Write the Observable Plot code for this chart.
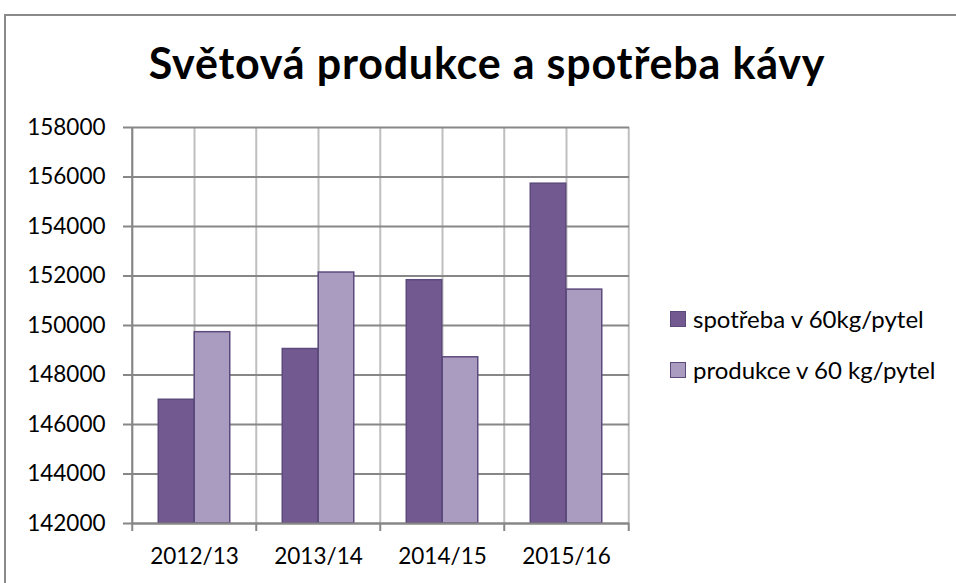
<!DOCTYPE html>
<html><head><meta charset="utf-8">
<script src="https://cdn.jsdelivr.net/npm/d3@7"></script>
<script src="https://cdn.jsdelivr.net/npm/@observablehq/plot@0.6"></script>
<style>
html,body{margin:0;padding:0;background:#fff;overflow:hidden;}
#wrap{position:relative;width:956px;height:583px;font-family:Lato,sans-serif;color:#000;overflow:hidden;}
#frame{position:absolute;left:4px;top:14px;width:990px;height:620px;border-top:2px solid #8a8a8a;border-left:2px solid #8a8a8a;}
#title{position:absolute;left:18px;width:938px;top:37px;text-align:center;font-weight:bold;font-size:43px;line-height:52px;letter-spacing:0.8px;white-space:nowrap;}
#chart{position:absolute;left:0;top:110px;}
.leg{position:absolute;left:670px;font-size:24px;line-height:28px;display:flex;align-items:center;white-space:nowrap;}
.sw{width:14px;height:14px;margin-right:7px;box-sizing:content-box;}
</style></head>
<body>
<div id="wrap">
  <div id="frame"></div>
  <div id="title">Světová produkce a spotřeba kávy</div>
  <div id="chart"></div>
  <div id="legend"></div>
</div>
<script>
const categories = ["2012/13", "2013/14", "2014/15", "2015/16"];
const spotreba = [147000, 149050, 151830, 155730];
const produkce = [149730, 152140, 148715, 151450];
const seriesNames = ["spotřeba v 60kg/pytel", "produkce v 60 kg/pytel"];
const yTicks = [142000, 144000, 146000, 148000, 150000, 152000, 154000, 156000, 158000];

const colors = ["#725A91", "#AA9BC0"];
const barStroke = "#5d4a7c";
const W = 956, H = 473, mL = 131, mR = 327, mT = 17, mB = 60;
const bw = (W - mL - mR) / categories.length;
const barW = 36;
const yMin = yTicks[0], yMax = yTicks[yTicks.length - 1];

const dSp = categories.map((c, i) => ({c, v: spotreba[i]}));
const dPr = categories.map((c, i) => ({c, v: produkce[i]}));
const last = categories.slice(-1);

const chart = Plot.plot({
  width: W, height: H,
  marginLeft: mL, marginRight: mR, marginTop: mT, marginBottom: mB,
  x: {type: "band", domain: categories, padding: 0, label: null},
  y: {domain: [yMin, yMax], label: null},
  style: {fontFamily: "Lato, sans-serif", fontSize: "22.5px", color: "#000", background: "transparent", overflow: "visible"},
  marks: [
    Plot.ruleX(categories, {x: d => d, stroke: "#bfbfbf", strokeWidth: 2}),
    Plot.ruleX(categories, {x: d => d, dx: -bw / 2, stroke: "#bfbfbf", strokeWidth: 2}),
    Plot.ruleX(last, {x: d => d, dx: bw / 2, stroke: "#bfbfbf", strokeWidth: 2}),
    Plot.ruleY(yTicks, {y: d => d, stroke: "#878787", strokeWidth: 2}),
    Plot.ruleX(categories.slice(0, 1), {x: d => d, dx: -bw / 2, stroke: "#878787", strokeWidth: 2}),
    Plot.barY(dSp, {x: "c", y1: yMin, y2: "v", fill: colors[0], stroke: barStroke, strokeWidth: 1.5, insetLeft: bw / 2 - barW, insetRight: bw / 2}),
    Plot.barY(dPr, {x: "c", y1: yMin, y2: "v", fill: colors[1], stroke: barStroke, strokeWidth: 1.5, insetLeft: bw / 2, insetRight: bw / 2 - barW}),
    Plot.ruleY([yMin], {y: d => d, stroke: "#878787", strokeWidth: 2}),
    Plot.ruleX(categories, {x: d => d, dx: -bw / 2, y1: yMin, y2: yMin, insetBottom: -8, stroke: "#878787", strokeWidth: 2}),
    Plot.ruleX(last, {x: d => d, dx: bw / 2, y1: yMin, y2: yMin, insetBottom: -8, stroke: "#878787", strokeWidth: 2}),
    Plot.axisY({ticks: yTicks, tickSize: 8, tickPadding: 18, stroke: "#878787", strokeWidth: 2, tickFormat: d3.format("d"), label: null}),
    Plot.axisX({tickSize: 0, tickPadding: 25, label: null})
  ]
});
document.getElementById("chart").appendChild(chart);

const leg = document.getElementById("legend");
const legTops = [305, 356];
seriesNames.forEach((name, i) => {
  const row = document.createElement("div");
  row.className = "leg";
  row.style.top = legTops[i] + "px";
  const sw = document.createElement("span");
  sw.className = "sw";
  sw.style.background = colors[i];
  sw.style.border = "1px solid " + barStroke;
  const t = document.createElement("span");
  t.textContent = name;
  row.appendChild(sw); row.appendChild(t);
  leg.appendChild(row);
});
</script>
</body></html>
